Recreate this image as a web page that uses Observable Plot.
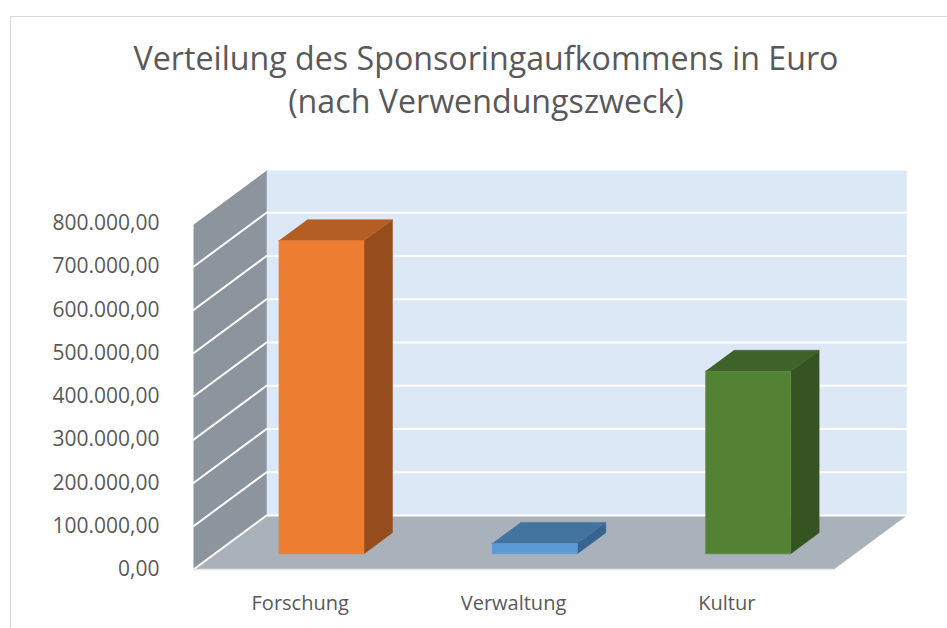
<!DOCTYPE html>
<html><head><meta charset="utf-8">
<script src="https://cdn.jsdelivr.net/npm/d3@7"></script>
<script src="https://cdn.jsdelivr.net/npm/@observablehq/plot@0.6"></script>
<style>
body{margin:0;background:#fff;overflow:hidden;width:947px;height:628px;position:relative;font-family:"Open Sans",sans-serif}
#frame{position:absolute;left:10px;top:16px;width:1000px;height:700px;border:1.5px solid #d9d9d9;box-sizing:border-box}
#title{position:absolute;left:0;width:972px;top:36px;text-align:center;color:#595959;font-size:32.2px;line-height:43px;white-space:nowrap}
#chart{position:absolute;left:0;top:0}
</style></head><body>
<div id="frame"></div>
<div id="chart"></div>
<div id="title">Verteilung des Sponsoringaufkommens in Euro<br>(nach Verwendungszweck)</div>
<script>
// ---- data ----
const categories = ["Forschung", "Verwaltung", "Kultur"];
const values = [724000, 24000, 422000];
const frontColors = ["#ED7D31", "#5B9BD5", "#548235"];
const topColors = ["#B45E23", "#43739F", "#3F6228"];
const sideColors = ["#964C1C", "#386490", "#365422"];
const yTicks = [0, 100000, 200000, 300000, 400000, 500000, 600000, 700000, 800000];
const yMax = 800000;

// ---- layout / 3D projection settings ----
const W = 947, H = 628;
const mL = 193, mR = 114, mT = 223, mB = 59;
const depthPx = [73, 54];            // oblique offset of the full floor depth (px right, px up)
const xPxPerUnit = (W - mL - mR) / categories.length;
const yPxPerUnit = (H - mT - mB) / yMax;
const DU = depthPx[0] / xPxPerUnit;  // full depth expressed in x data units
const DV = depthPx[1] / yPxPerUnit;  // full depth expressed in y data units
const P = (u, v, d) => ({x: u + d * DU, y: v + d * DV});

const barHalf = 0.2, d0 = 0.29, d1 = 0.68;
const n = categories.length;

const locale = d3.formatLocale({decimal: ",", thousands: ".", grouping: [3], currency: ["", " €"]});
const fmt = locale.format(",.2f");

// walls & floor
const walls = [];
const addPoly = (arr, id, pts, color) => pts.forEach(p => arr.push({id, x: p.x, y: p.y, color}));
addPoly(walls, "back", [P(0, 0, 1), P(n, 0, 1), P(n, yMax, 1), P(0, yMax, 1)], "#DDE8F6");
addPoly(walls, "side", [P(0, 0, 0), P(0, 0, 1), P(0, yMax, 1), P(0, yMax, 0)], "#8C959E");
addPoly(walls, "floor", [P(0, 0, 0), P(n, 0, 0), P(n, 0, 1), P(0, 0, 1)], "#A9B2BA");

// gridlines
const grid = [];
yTicks.forEach(v => {
  [P(0, v, 0), P(0, v, 1), P(n, v, 1)].forEach(p => grid.push({id: v, x: p.x, y: p.y}));
});

// bars
const bars = [];
categories.forEach((c, i) => {
  const u = i + 0.5, v = values[i], a = u - barHalf, b = u + barHalf;
  addPoly(bars, c + "-side", [P(b, 0, d0), P(b, 0, d1), P(b, v, d1), P(b, v, d0)], sideColors[i]);
  addPoly(bars, c + "-top", [P(a, v, d0), P(b, v, d0), P(b, v, d1), P(a, v, d1)], topColors[i]);
  addPoly(bars, c + "-front", [P(a, 0, d0), P(b, 0, d0), P(b, v, d0), P(a, v, d0)], frontColors[i]);
});

const chart = Plot.plot({
  width: W, height: H,
  marginLeft: mL, marginRight: mR, marginTop: mT, marginBottom: mB,
  x: {type: "linear", domain: [0, n], axis: null},
  y: {domain: [0, yMax], axis: null},
  color: {type: "identity"},
  style: {fontFamily: "'Open Sans', sans-serif", color: "#595959", background: "transparent", overflow: "visible"},
  marks: [
    Plot.line(walls, {x: "x", y: "y", z: "id", fill: "color", stroke: "color", strokeWidth: 0.5}),
    Plot.line(grid, {x: "x", y: "y", z: "id", stroke: "#ffffff", strokeWidth: 2}),
    Plot.line([P(0, 0, 0), P(n, 0, 0)], {x: "x", y: "y", stroke: "#E3E6E9", strokeWidth: 1.5}),
    Plot.line(bars, {x: "x", y: "y", z: "id", fill: "color", stroke: "color", strokeWidth: 0.5}),
    Plot.axisY(yTicks, {anchor: "left", tickSize: 0, tickPadding: 34, tickFormat: fmt, fontSize: 21, color: "#595959", label: null}),
    Plot.axisX(categories.map((c, i) => i + 0.5), {anchor: "bottom", tickSize: 0, tickPadding: 26, tickFormat: d => categories[Math.floor(d)], fontSize: 20, color: "#595959", label: null})
  ]
});
document.getElementById("chart").appendChild(chart);
</script>
</body></html>
